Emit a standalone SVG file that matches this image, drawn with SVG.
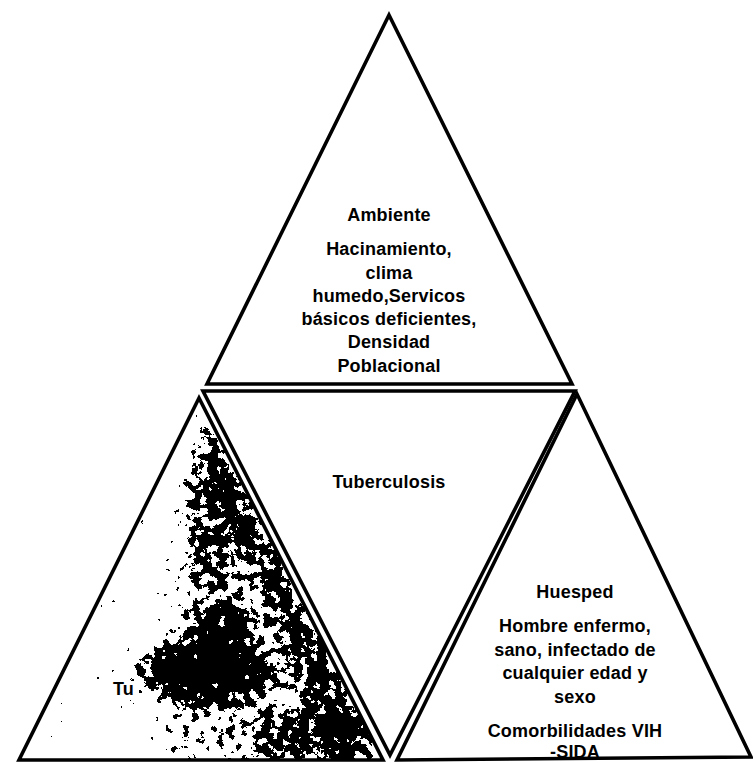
<svg xmlns="http://www.w3.org/2000/svg" width="753" height="763" viewBox="0 0 753 763">
<style>
.tri{fill:#fff;stroke:#000;stroke-width:3.6;stroke-linejoin:miter}
.t{font-family:"Liberation Sans",Arial,sans-serif;font-weight:bold;font-size:18px;letter-spacing:0.2px;fill:#000;text-anchor:middle}
</style>
<defs>
<clipPath id="clipL"><polygon points="199,398 19,760 383,760"/></clipPath>
<filter id="speckle" filterUnits="userSpaceOnUse" x="0" y="380" width="420" height="390">
<feTurbulence type="fractalNoise" baseFrequency="0.11" numOctaves="4" seed="11" result="n"/>
<feColorMatrix in="n" type="matrix" values="0 0 0 0 0 0 0 0 0 0 0 0 0 0 0 1 0 0 0 0" result="na"/>
<feGaussianBlur in="SourceGraphic" stdDeviation="10" result="b"/>
<feComposite in="b" in2="na" operator="arithmetic" k1="0" k2="1" k3="1.6" k4="-0.8" result="c"/>
<feComponentTransfer in="c"><feFuncA type="discrete" tableValues="0 1"/></feComponentTransfer>
</filter>
</defs>
<rect width="753" height="763" fill="#fff"/>
<g id="node-ambiente">
<polygon class="tri" points="389,15 207,384 572,384"/>
<text class="t" x="389" y="221">Ambiente</text>
<text class="t" x="389" y="255">Hacinamiento,</text>
<text class="t" x="389" y="279">clima</text>
<text class="t" x="389" y="302">humedo,Servicos</text>
<text class="t" x="389" y="325">básicos deficientes,</text>
<text class="t" x="389" y="348">Densidad</text>
<text class="t" x="389" y="372">Poblacional</text>
</g>
<g id="node-tuberculosis">
<polygon class="tri" points="203,391 575,391 390,755"/>
<text class="t" x="389" y="488">Tuberculosis</text>
</g>
<g id="node-agente">
<polygon class="tri" points="199,398 19,760 383,760"/>
<g clip-path="url(#clipL)">
<g filter="url(#speckle)" fill="#000">
<polygon points="199,420 383,760 160,760 185,500" opacity="0.32"/>
<polygon points="199,398 383,760 335,760 205,440" opacity="0.75"/>
<ellipse cx="205" cy="672" rx="66" ry="32" opacity="0.92"/>
<ellipse cx="222" cy="628" rx="30" ry="26" opacity="0.85"/>
<ellipse cx="300" cy="738" rx="60" ry="26" opacity="0.5"/>
<ellipse cx="212" cy="520" rx="26" ry="70" opacity="0.5"/>
</g>
</g>
<text class="t" x="113" y="695" style="text-anchor:start">Tu</text>
</g>
<g id="node-huesped">
<polygon class="tri" points="577,394 397,760 751,757"/>
<text class="t" x="575" y="598">Huesped</text>
<text class="t" x="575" y="632">Hombre enfermo,</text>
<text class="t" x="575" y="656">sano, infectado de</text>
<text class="t" x="575" y="679">cualquier edad y</text>
<text class="t" x="575" y="703">sexo</text>
<text class="t" x="575" y="737">Comorbilidades VIH</text>
<text class="t" x="575" y="758">-SIDA</text>
</g>
<g id="connectors"></g>
</svg>
